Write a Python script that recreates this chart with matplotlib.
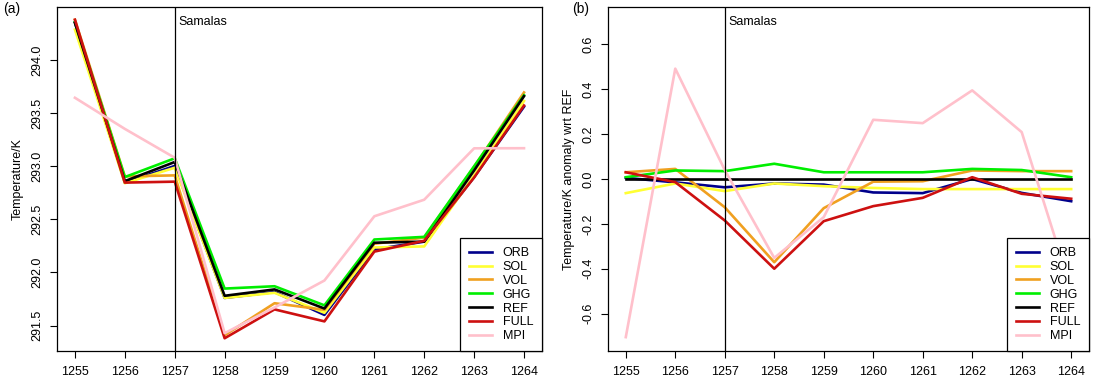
import matplotlib
matplotlib.use('Agg')
import matplotlib.pyplot as plt

# 字体设置
plt.rcParams['font.family'] = ['Liberation Sans', 'DejaVu Sans']
plt.rcParams['font.size'] = 9

# 年份
years = [1255, 1256, 1257, 1258, 1259, 1260, 1261, 1262, 1263, 1264]

# REF 绝对温度 (K)
ref = [294.35, 292.86, 293.04, 291.78, 291.84, 291.66, 292.28, 292.29, 292.96, 293.66]

# 各试验相对 REF 的距平 (K)
orb = [0.005, -0.015, -0.037, -0.02, -0.025, -0.06, -0.063, 0.0, -0.062, -0.099]
sol = [-0.063, -0.02, -0.054, -0.02, -0.032, -0.04, -0.045, -0.045, -0.045, -0.045]
vol = [0.03, 0.045, -0.126, -0.371, -0.13, -0.012, -0.01, 0.038, 0.035, 0.035]
ghg = [0.008, 0.038, 0.035, 0.068, 0.03, 0.03, 0.03, 0.045, 0.04, 0.008]
ref_anom = [0.0, 0.0, 0.0, 0.0, 0.0, 0.0, 0.0, 0.0, 0.0, 0.0]
full = [0.03, -0.014, -0.185, -0.40, -0.188, -0.121, -0.084, 0.008, -0.066, -0.088]
mpi = [-0.705, 0.492, 0.04, -0.352, -0.17, 0.264, 0.249, 0.395, 0.209, -0.49]

names = ['ORB', 'SOL', 'VOL', 'GHG', 'REF', 'FULL', 'MPI']
anoms = [orb, sol, vol, ghg, ref_anom, full, mpi]
colors = ['#00008B', '#FFFF33', '#F0A020', '#00EE00', 'black', '#CD1010', '#FFC0CB']

fig = plt.figure(figsize=(11, 3.8), dpi=100)
ax1 = fig.add_axes([0.0518, 0.0763, 0.4409, 0.9053])
ax2 = fig.add_axes([0.5527, 0.0763, 0.4373, 0.9053])

# (a) 绝对温度
for name, an, c in zip(names, anoms, colors):
    vals = [r + a for r, a in zip(ref, an)]
    ax1.plot(years, vals, color=c, lw=1.9, label=name)

# (b) 相对 REF 的距平
for name, an, c in zip(names, anoms, colors):
    ax2.plot(years, an, color=c, lw=1.9, label=name)

ax1.margins(x=0.04, y=0.04)
ax1.set_yticks([291.5, 292.0, 292.5, 293.0, 293.5, 294.0])
ax1.set_yticklabels(['291.5', '292.0', '292.5', '293.0', '293.5', '294.0'])
ax1.set_ylabel('Temperature/K', labelpad=5)

lim = 0.71
ax2.set_xlim(1255 - 0.36, 1264 + 0.36)
ax2.set_ylim(-lim * 1.08, lim * 1.08)
ax2.set_yticks([-0.6, -0.4, -0.2, 0.0, 0.2, 0.4, 0.6])
ax2.set_yticklabels(['-0.6', '-0.4', '-0.2', '0.0', '0.2', '0.4', '0.6'])
ax2.set_ylabel('Temperature/K anomaly wrt REF', labelpad=5)

for ax in [ax1, ax2]:
    ax.set_xticks(years)
    ax.axvline(1257, color='black', lw=0.9)
    ax.text(1257.07, 0.955, 'Samalas', transform=ax.get_xaxis_transform(),
            ha='left', va='center', fontsize=9)
    ax.tick_params(axis='x', direction='out', length=5, width=0.8, pad=6)
    ax.tick_params(axis='y', direction='out', length=5, width=0.8, pad=5)
    for lab in ax.get_yticklabels():
        lab.set_rotation(90)
        lab.set_va('center')
    for sp in ax.spines.values():
        sp.set_linewidth(0.9)
    leg = ax.legend(loc='lower right', borderaxespad=0, fancybox=False,
                    edgecolor='black', framealpha=1, handlelength=1.85,
                    labelspacing=0.15, borderpad=0.7, handletextpad=0.85,
                    fontsize=9)
    leg.get_frame().set_linewidth(0.9)

fig.text(0.003, 0.975, '(a)', fontsize=10, ha='left', va='center')
fig.text(0.520, 0.975, '(b)', fontsize=10, ha='left', va='center')

plt.savefig('out.png', dpi=100)
